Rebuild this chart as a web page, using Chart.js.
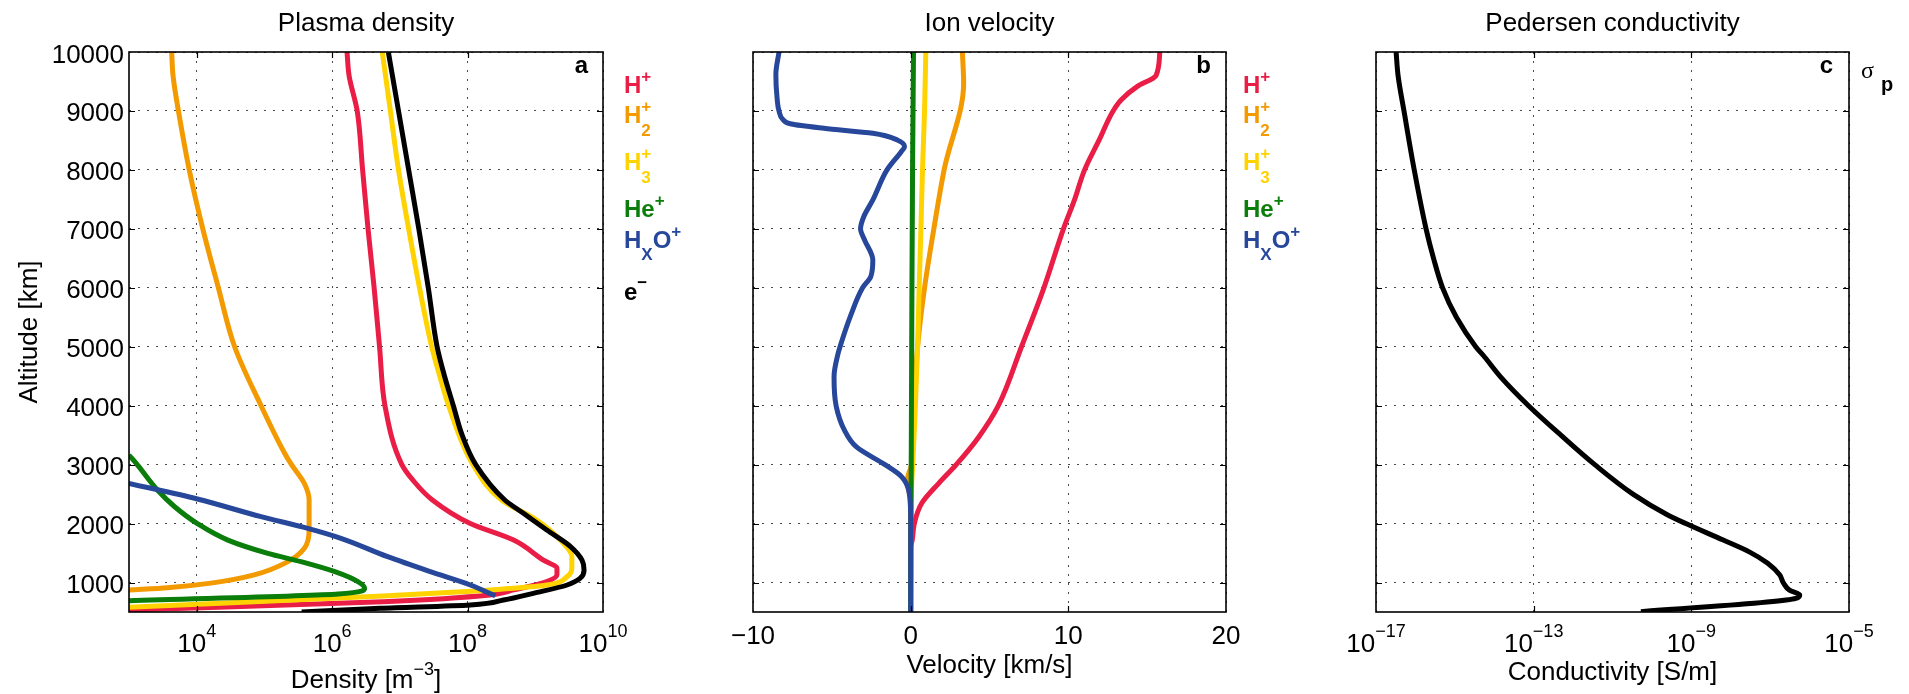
<!DOCTYPE html>
<html><head><meta charset="utf-8">
<script src="https://cdn.jsdelivr.net/npm/chart.js@4.4.0/dist/chart.umd.min.js"></script>
<style>
html,body{margin:0;padding:0;background:#fff;}
#wrap{position:relative;width:1909px;height:694px;overflow:hidden;background:#fff;}
canvas{position:absolute;left:0;top:0;}
</style></head><body>
<div id="wrap">
<canvas id="cA" width="1909" height="694"></canvas>
<canvas id="cB" width="1909" height="694"></canvas>
<canvas id="cC" width="1909" height="694"></canvas>
</div>
<script>
// ---------- tick values ----------
const altitudeTicks = [1000,2000,3000,4000,5000,6000,7000,8000,9000,10000];
const densityTicks = [1e4,1e6,1e8,1e10];
const densityTickExp = ['4','6','8','10'];
const velocityTicks = [-10,0,10,20];
const velocityTickLabels = ['\u221210','0','10','20'];
const conductivityTicks = [1e-17,1e-13,1e-9,1e-5];
const conductivityTickExp = ['\u221217','\u221213','\u22129','\u22125'];

// ---------- panel a: plasma density (log10 m^-3) ----------
const hPlusAlt = [10000,9600,9000,8000,7000,6000,5000,4000,3000,2740,2400,2000,1720,1380,1240,1130,1015,875,790,675,534];
const hPlusLogDen = [6.22,6.25,6.37,6.45,6.53,6.62,6.70,6.78,7.03,7.19,7.48,8.04,8.68,9.12,9.32,9.32,9.17,8.68,8.33,6.75,3.0];
const h2PlusAlt = [10000,9600,9000,8000,7000,6000,5000,4000,3190,3000,2680,2400,1890,1580,1350,1130,990,913,874];
const h2PlusLogDen = [3.63,3.65,3.73,3.89,4.09,4.32,4.56,4.95,5.30,5.40,5.59,5.66,5.66,5.59,5.34,4.85,4.21,3.57,3.0];
const h3PlusAlt = [10000,9000,8000,7000,6000,5000,4500,4000,3000,2400,2060,1720,1440,1270,1100,958,902,862,772,579];
const h3PlusLogDen = [6.74,6.86,6.98,7.13,7.29,7.47,7.59,7.72,8.08,8.50,9.02,9.37,9.54,9.54,9.47,9.17,8.68,8.19,6.75,3.0];
const hePlusAlt = [3163,2988,2570,2290,2000,1720,1495,1354,1184,1015,902,805,692];
const hePlusLogDen = [3.0,3.13,3.42,3.67,4.01,4.46,5.05,5.54,6.04,6.38,6.48,6.09,3.0];
const hxoPlusAlt = [2683,2417,2117,1919,1750,1438,1184,958,775];
const hxoPlusLogDen = [3.0,4.01,4.95,5.64,6.13,6.82,7.45,8.04,8.41];
const electronAlt = [10000,9000,8000,7000,6000,5000,4500,4000,3500,3000,2400,2170,1890,1610,1380,1210,1070,958,817,703,619,562,500];
const electronLogDen = [6.83,6.98,7.13,7.28,7.42,7.55,7.66,7.79,7.92,8.12,8.55,8.83,9.17,9.52,9.69,9.72,9.66,9.47,8.97,8.53,8.04,6.71,5.55];

// ---------- panel b: ion velocity (km/s) ----------
const hPlusVelAlt = [10000,9600,9420,9190,9000,8500,8000,7490,7000,6000,5000,4000,3470,3000,2683,2344,2000,1720,1600,500];
const hPlusVel = [15.8,15.56,14.4,13.36,12.84,11.94,11.03,10.39,9.69,8.45,7.03,5.56,4.32,2.89,1.78,0.7,0.23,0.1,0,0];
const h2PlusVelAlt = [10000,9470,8000,7000,6000,5000,4000,3000,2750,2600,2400,500];
const h2PlusVel = [3.28,3.36,2.12,1.47,0.88,0.44,0.22,0.05,-0.2,-0.15,0,0];
const h3PlusVelAlt = [10000,9000,8000,7000,6000,5000,4000,3000,2500,2000,500];
const h3PlusVel = [0.96,0.88,0.75,0.65,0.54,0.44,0.3,0.13,0.03,0,0];
const hePlusVelAlt = [10000,8000,6000,4000,2000,500];
const hePlusVel = [0.18,0.12,0.08,0.05,0.02,0];
const hxoPlusVelAlt = [10000,9620,9240,9000,8850,8778,8705,8620,8507,8394,8309,8000,7490,7210,7000,6810,6470,6190,6000,5520,5010,4890,4490,4000,3590,3300,3000,2800,2570,2120,500];
const hxoPlusVel = [-8.35,-8.55,-8.48,-8.35,-8.09,-7.57,-5.5,-2.4,-0.85,-0.39,-0.6,-1.5,-2.4,-2.97,-3.18,-2.92,-2.4,-2.53,-3.05,-3.82,-4.47,-4.6,-4.86,-4.73,-4.21,-3.44,-1.63,-0.59,-0.13,0,0];

// ---------- panel c: Pedersen conductivity (log10 S/m) ----------
const sigmaAlt = [10000,9600,9000,8000,7000,6500,6000,5500,5000,4830,4490,4000,3500,3000,2500,2150,2000,1720,1520,1330,1130,990,870,790,730,505];
const sigmaLog = [-16.49,-16.44,-16.29,-16.03,-15.73,-15.54,-15.31,-14.96,-14.47,-14.25,-13.84,-13.13,-12.31,-11.45,-10.48,-9.61,-9.14,-8.19,-7.53,-7.07,-6.76,-6.66,-6.51,-6.25,-6.35,-10.28];

// ---------- styling ----------
const FAM = '"Liberation Sans", Arial, Helvetica, sans-serif';
const COL = {red:'#E91D45', orange:'#F39A00', yellow:'#FFD300', green:'#0A7D0A', blue:'#27479A', black:'#000000'};
const W = 1909, H = 694;
const LW = 5;

function logPts(alts, logs){ return alts.map((a,i)=>({x: Math.pow(10, logs[i]), y: a})); }
function linPts(alts, vals){ return alts.map((a,i)=>({x: vals[i], y: a})); }

function ds(data, color, order){
  return {data, borderColor: color, backgroundColor: color, borderWidth: LW, pointRadius: 0,
          cubicInterpolationMode:'monotone', fill: false, clip: 0, order, borderJoinStyle:'round', borderCapStyle:'butt'};
}

function drawRich(ctx, x, y, parts, align, color){
  let cur = 0, end = 0;
  const pos = parts.map(p => { ctx.font = p.f; const w = ctx.measureText(p.t).width; const px = cur; if(!p.stay) cur += w; end = Math.max(end, px + w); return px; });
  const x0 = align === 'center' ? x - end/2 : (align === 'right' ? x - end : x);
  ctx.textAlign = 'left'; ctx.textBaseline = 'alphabetic';
  parts.forEach((p,i) => { ctx.font = p.f; ctx.fillStyle = p.c || color; ctx.fillText(p.t, x0 + pos[i] + (p.dx||0), y + (p.dy||0)); });
}

const fTick = '26px ' + FAM, fExp = '18px ' + FAM, fTitle = '26px ' + FAM;
const fLeg = 'bold 24px ' + FAM, fLegS = 'bold 17px ' + FAM;

const ionLegend = [
  {c: COL.red, y: 93, parts: [{t:'H', f:fLeg},{t:'+', f:fLegS, dy:-11}]},
  {c: COL.orange, y: 123, parts: [{t:'H', f:fLeg},{t:'+', f:fLegS, dy:-11, stay:true},{t:'2', f:fLegS, dy:13}]},
  {c: COL.yellow, y: 170, parts: [{t:'H', f:fLeg},{t:'+', f:fLegS, dy:-11, stay:true},{t:'3', f:fLegS, dy:13}]},
  {c: COL.green, y: 217, parts: [{t:'He', f:fLeg},{t:'+', f:fLegS, dy:-11}]},
  {c: COL.blue, y: 248, parts: [{t:'H', f:fLeg},{t:'X', f:fLegS, dy:12},{t:'O', f:fLeg},{t:'+', f:fLegS, dy:-11}]},
  {c: COL.black, y: 300, parts: [{t:'e', f:fLeg},{t:'\u2212', f:fLegS, dy:-12}]}
];

function frameAndTicks(ctx, chart){
  const a = chart.chartArea, xs = chart.scales.x, ys = chart.scales.y;
  ctx.save();
  ctx.strokeStyle = '#000'; ctx.lineWidth = 1.2;
  ctx.beginPath();
  ys.ticks.forEach(t => { const py = Math.round(ys.getPixelForValue(t.value)) + 0.5;
    if (py > a.top + 2 && py < a.bottom - 2){ ctx.moveTo(a.left, py); ctx.lineTo(a.left + 6, py); ctx.moveTo(a.right, py); ctx.lineTo(a.right - 6, py); } });
  xs.ticks.forEach(t => { const px = Math.round(xs.getPixelForValue(t.value)) + 0.5;
    if (px > a.left + 2 && px < a.right - 2){ ctx.moveTo(px, a.bottom); ctx.lineTo(px, a.bottom - 6); ctx.moveTo(px, a.top); ctx.lineTo(px, a.top + 6); } });
  ctx.stroke();
  ctx.lineWidth = 1.6;
  ctx.strokeRect(a.left, a.top, a.right - a.left, a.bottom - a.top);
  ctx.restore();
}

function makeChart(id, area, xOpt, datasets, decor){
  const xScale = Object.assign({
    position:'bottom', ticks:{display:false, autoSkip:false}, grid:{color:'#4a4a4a', lineWidth:1, drawTicks:false},
    border:{display:false, dash:[2,7]},
    afterFit(s){ s.height = 0; }
  }, xOpt);
  return new Chart(document.getElementById(id), {
    type: 'line',
    data: { datasets },
    options: {
      indexAxis: 'y',
      responsive:false, animation:false, devicePixelRatio:1,
      layout:{padding:{left:area.l, right:W-area.r, top:area.t, bottom:H-area.b}},
      plugins:{legend:{display:false}, tooltip:{enabled:false}, title:{display:false}},
      scales:{
        x: xScale,
        y: { type:'linear', min:500, max:10000, position:'left',
             ticks:{display:false, autoSkip:false}, grid:{color:'#4a4a4a', lineWidth:1, drawTicks:false},
             border:{display:false, dash:[2,7]},
             afterBuildTicks(s){ s.ticks = altitudeTicks.map(v => ({value:v})); },
             afterFit(s){ s.width = 0; } }
      }
    },
    plugins:[{id:'decor', afterDraw(chart){ const ctx = chart.ctx; frameAndTicks(ctx, chart); decor(ctx, chart); }}]
  });
}

// ---------- panel a ----------
makeChart('cA', {l:129, r:603, t:52, b:612},
  {type:'logarithmic', min:1e3, max:1e10, afterBuildTicks(s){ s.ticks = densityTicks.map(v => ({value:v})); }},
  [
    ds(logPts(electronAlt, electronLogDen), COL.black, 0),
    ds(logPts(hxoPlusAlt, hxoPlusLogDen), COL.blue, 1),
    ds(logPts(hePlusAlt, hePlusLogDen), COL.green, 2),
    ds(logPts(h3PlusAlt, h3PlusLogDen), COL.yellow, 3),
    ds(logPts(h2PlusAlt, h2PlusLogDen), COL.orange, 4),
    ds(logPts(hPlusAlt, hPlusLogDen), COL.red, 5)
  ],
  (ctx, chart) => {
    const a = chart.chartArea, xs = chart.scales.x, ys = chart.scales.y;
    ctx.save();
    ctx.fillStyle = '#000'; ctx.font = fTick; ctx.textAlign = 'right'; ctx.textBaseline = 'alphabetic';
    altitudeTicks.forEach(v => ctx.fillText(String(v), a.left - 5, ys.getPixelForValue(v) + 10.5));
    densityTicks.forEach((v,i) => drawRich(ctx, xs.getPixelForValue(v), 652, [{t:'10', f:fTick},{t:densityTickExp[i], f:fExp, dy:-15}], 'center', '#000'));
    ctx.font = fTitle; ctx.textAlign = 'center'; ctx.fillStyle = '#000';
    ctx.fillText('Plasma density', (a.left + a.right)/2, 31);
    drawRich(ctx, (a.left + a.right)/2, 688, [{t:'Density [m', f:fTitle},{t:'\u22123', f:fExp, dy:-13},{t:']', f:fTitle}], 'center', '#000');
    ctx.save(); ctx.translate(37, (a.top + a.bottom)/2); ctx.rotate(-Math.PI/2);
    ctx.font = fTitle; ctx.textAlign = 'center'; ctx.fillText('Altitude [km]', 0, 0); ctx.restore();
    ctx.font = 'bold 24px ' + FAM; ctx.textAlign = 'right'; ctx.fillText('a', a.right - 15, 73);
    ionLegend.forEach(r => drawRich(ctx, a.right + 21, r.y, r.parts, 'left', r.c));
    ctx.restore();
  });

// ---------- panel b ----------
makeChart('cB', {l:753, r:1226, t:52, b:612},
  {type:'linear', min:-10, max:20, afterBuildTicks(s){ s.ticks = velocityTicks.map(v => ({value:v})); }},
  [
    ds(linPts(hxoPlusVelAlt, hxoPlusVel), COL.blue, 0),
    ds(linPts(hePlusVelAlt, hePlusVel), COL.green, 1),
    ds(linPts(h3PlusVelAlt, h3PlusVel), COL.yellow, 2),
    ds(linPts(h2PlusVelAlt, h2PlusVel), COL.orange, 3),
    ds(linPts(hPlusVelAlt, hPlusVel), COL.red, 4)
  ],
  (ctx, chart) => {
    const a = chart.chartArea, xs = chart.scales.x;
    ctx.save();
    ctx.fillStyle = '#000'; ctx.font = fTick; ctx.textAlign = 'center'; ctx.textBaseline = 'alphabetic';
    velocityTicks.forEach((v,i) => ctx.fillText(velocityTickLabels[i], xs.getPixelForValue(v), 644));
    ctx.font = fTitle;
    ctx.fillText('Ion velocity', (a.left + a.right)/2, 31);
    ctx.fillText('Velocity [km/s]', (a.left + a.right)/2, 673);
    ctx.font = 'bold 24px ' + FAM; ctx.textAlign = 'right'; ctx.fillText('b', a.right - 15, 73);
    ionLegend.slice(0,5).forEach(r => drawRich(ctx, a.right + 17, r.y, r.parts, 'left', r.c));
    ctx.restore();
  });

// ---------- panel c ----------
makeChart('cC', {l:1376, r:1849, t:52, b:612},
  {type:'logarithmic', min:1e-17, max:1e-5, afterBuildTicks(s){ s.ticks = conductivityTicks.map(v => ({value:v})); }},
  [ ds(logPts(sigmaAlt, sigmaLog), COL.black, 0) ],
  (ctx, chart) => {
    const a = chart.chartArea, xs = chart.scales.x;
    ctx.save();
    conductivityTicks.forEach((v,i) => drawRich(ctx, xs.getPixelForValue(v), 652, [{t:'10', f:fTick},{t:conductivityTickExp[i], f:fExp, dy:-15}], 'center', '#000'));
    ctx.fillStyle = '#000'; ctx.font = fTitle; ctx.textAlign = 'center';
    ctx.fillText('Pedersen conductivity', (a.left + a.right)/2, 31);
    ctx.fillText('Conductivity [S/m]', (a.left + a.right)/2, 680);
    ctx.font = 'bold 24px ' + FAM; ctx.textAlign = 'right'; ctx.fillText('c', a.right - 16, 73);
    ctx.textAlign = 'left';
    ctx.font = '24px "Liberation Serif", "DejaVu Serif", serif'; ctx.fillText('\u03c3', a.right + 12, 78);
    ctx.font = 'bold 20px ' + FAM; ctx.fillText('p', a.right + 32, 91);
    ctx.restore();
  });
</script>
</body></html>
